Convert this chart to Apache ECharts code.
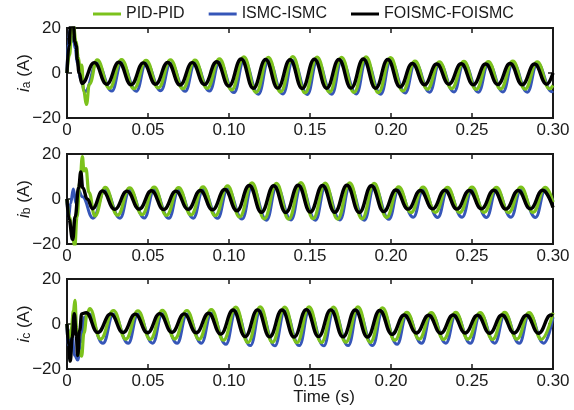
<!DOCTYPE html>
<html>
<head>
<meta charset="utf-8">
<script src="https://cdn.jsdelivr.net/npm/echarts@6/dist/echarts.min.js"></script>
<style>
  html, body { margin: 0; padding: 0; background: #fff; }
  #c { width: 574px; height: 410px; }
</style>
</head>
<body>
<div id="c"></div>
<script>
// Three-phase stator currents under three controller pairs (time in s, current in A).
// Each list holds [time, current] turning points of the waveform.
const X_TICKS = ['0', '0.05', '0.10', '0.15', '0.20', '0.25', '0.30'];
const Y_TICKS = [-20, 0, 20];
const SERIES_NAMES = ['PID-PID', 'ISMC-ISMC', 'FOISMC-FOISMC'];

const IA_PID = [[0,0],[0.0015,8],[0.0030,18],[0.0040,21],[0.0055,14],[0.0070,7],[0.0082,1],[0.0091,3.5],[0.0103,-8],[0.0120,-14],[0.0138,-5],
  [0.0186,5.8],[0.0262,-6.8],[0.0337,6.0],[0.0413,-7.0],[0.0488,5.6],[0.0564,-6.6],[0.0639,5.9],[0.0715,-7.0],[0.0790,5.7],[0.0865,-6.8],
  [0.0941,6.3],[0.1016,-7.5],[0.1092,7.2],[0.1167,-8.6],[0.1243,7.0],[0.1318,-8.4],[0.1394,7.3],[0.1469,-8.8],[0.1544,7.1],[0.1620,-8.5],
  [0.1695,7.0],[0.1771,-8.6],[0.1846,7.2],[0.1922,-8.7],[0.1997,6.8],[0.2073,-8.0],[0.2148,5.3],[0.2224,-7.2],[0.2299,5.0],[0.2374,-7.0],
  [0.2450,5.2],[0.2525,-7.3],[0.2601,5.1],[0.2676,-7.1],[0.2752,5.3],[0.2827,-7.2],[0.2903,5.0],[0.2978,-7.0],[0.3000,-5.5]];
const IA_ISMC = [[0,0],[0.0010,15],[0.0018,19],[0.0028,14],[0.0040,16],[0.0050,11],[0.0065,4],[0.0085,-3],[0.0110,-8.3],
  [0.0186,4.5],[0.0277,-8.0],[0.0337,4.6],[0.0428,-8.1],[0.0488,4.4],[0.0579,-7.9],[0.0639,4.5],[0.0730,-8.1],[0.0790,4.6],[0.0880,-8.0],
  [0.0941,4.8],[0.1031,-8.7],[0.1092,5.6],[0.1182,-9.4],[0.1243,5.5],[0.1333,-9.3],[0.1394,5.6],[0.1484,-9.5],[0.1544,5.5],[0.1635,-9.4],
  [0.1695,5.4],[0.1786,-9.3],[0.1846,5.6],[0.1937,-9.4],[0.1997,5.3],[0.2088,-8.9],[0.2148,4.4],[0.2239,-8.5],[0.2299,4.3],[0.2389,-8.4],
  [0.2450,4.4],[0.2540,-8.5],[0.2601,4.3],[0.2691,-8.4],[0.2752,4.4],[0.2842,-8.5],[0.2903,4.3],[0.2993,-8.3],[0.3000,-8.0]];
const IA_FOISMC = [[0,0],[0.0012,12],[0.0022,21],[0.0040,21],[0.0048,14],[0.0058,12],[0.0063,6],[0.0075,0],[0.0092,-4.6],
  [0.0169,4.6],[0.0245,-5.0],[0.0320,4.8],[0.0396,-5.2],[0.0471,4.5],[0.0547,-5.0],[0.0622,4.7],[0.0698,-5.3],[0.0773,4.6],[0.0848,-5.1],
  [0.0924,5.0],[0.0999,-5.8],[0.1075,6.2],[0.1150,-6.8],[0.1226,6.0],[0.1301,-6.7],[0.1377,5.9],[0.1452,-6.9],[0.1527,6.1],[0.1603,-6.8],
  [0.1678,6.0],[0.1754,-6.7],[0.1829,6.2],[0.1905,-6.8],[0.1980,6.0],[0.2056,-6.2],[0.2131,4.2],[0.2207,-5.2],[0.2282,4.0],[0.2357,-5.0],
  [0.2433,4.1],[0.2508,-5.2],[0.2584,4.0],[0.2659,-5.1],[0.2735,4.2],[0.2810,-5.2],[0.2886,4.0],[0.2961,-5.0],[0.3000,0.0]];

const IB_PID = [[0,0],[0.0015,-8],[0.0035,-17],[0.0048,-21],[0.0062,-8],[0.0080,8],[0.0095,18.8],[0.0105,12.5],[0.0117,13.5],[0.0135,3],[0.0172,-7.5],
  [0.0236,5.2],[0.0312,-7.2],[0.0387,5.0],[0.0463,-7.0],[0.0538,5.3],[0.0614,-7.3],[0.0689,5.1],[0.0765,-7.1],[0.0840,5.4],[0.0915,-7.4],
  [0.0991,5.8],[0.1066,-8.0],[0.1142,7.2],[0.1217,-8.8],[0.1293,7.0],[0.1368,-8.9],[0.1444,7.3],[0.1519,-8.7],[0.1594,7.1],[0.1670,-8.9],
  [0.1745,7.2],[0.1821,-8.8],[0.1896,7.0],[0.1972,-8.2],[0.2047,5.4],[0.2123,-6.0],[0.2198,5.3],[0.2274,-5.9],[0.2349,5.2],[0.2424,-6.0],
  [0.2500,5.3],[0.2575,-5.9],[0.2651,5.2],[0.2726,-6.0],[0.2802,5.3],[0.2877,-5.9],[0.2953,5.2],[0.3000,-1.5]];
const IB_ISMC = [[0,0],[0.0009,-8.5],[0.0022,-2],[0.0039,4.5],[0.0056,-2],[0.0070,4],[0.0095,1],[0.0160,-8.5],
  [0.0236,4.0],[0.0327,-8.5],[0.0387,3.9],[0.0478,-8.4],[0.0538,4.1],[0.0629,-8.6],[0.0689,4.0],[0.0780,-8.5],[0.0840,4.2],[0.0930,-8.6],
  [0.0991,4.5],[0.1081,-8.9],[0.1142,5.6],[0.1232,-9.4],[0.1293,5.5],[0.1383,-9.3],[0.1444,5.6],[0.1534,-9.4],[0.1594,5.5],[0.1685,-9.3],
  [0.1745,5.6],[0.1836,-9.4],[0.1896,5.4],[0.1987,-9.0],[0.2047,4.2],[0.2138,-8.1],[0.2198,4.1],[0.2289,-8.2],[0.2349,4.2],[0.2439,-8.1],
  [0.2500,4.1],[0.2590,-8.2],[0.2651,4.2],[0.2741,-8.1],[0.2802,4.1],[0.2892,-8.2],[0.2953,4.2],[0.3000,-1.0]];
const IB_FOISMC = [[0,0],[0.0012,-9],[0.0035,-18],[0.0050,-8],[0.0072,5],[0.0085,12],[0.0097,5],[0.0125,0],[0.0158,-4.3],
  [0.0219,3.6],[0.0295,-4.6],[0.0370,3.5],[0.0446,-4.5],[0.0521,3.7],[0.0597,-4.7],[0.0672,3.5],[0.0748,-4.6],[0.0823,3.8],[0.0898,-4.8],
  [0.0974,4.2],[0.1049,-5.2],[0.1125,6.0],[0.1200,-5.9],[0.1276,5.9],[0.1351,-6.0],[0.1427,6.1],[0.1502,-5.8],[0.1577,6.0],[0.1653,-5.9],
  [0.1728,6.1],[0.1804,-6.0],[0.1879,5.9],[0.1955,-5.6],[0.2030,4.0],[0.2106,-4.5],[0.2181,3.8],[0.2257,-4.4],[0.2332,3.9],[0.2407,-4.5],
  [0.2483,3.8],[0.2558,-4.4],[0.2634,3.9],[0.2709,-4.5],[0.2785,3.8],[0.2860,-4.4],[0.2936,3.9],[0.3000,-3.8]];

const IC_PID = [[0,0],[0.0012,-6],[0.0025,-3],[0.0040,6],[0.0049,10.5],[0.0060,-2],[0.0075,-12],[0.0090,-14.3],[0.0105,-4],[0.0125,5],[0.0140,6.8],[0.0207,-6.7],
  [0.0287,6.0],[0.0363,-6.7],[0.0438,5.9],[0.0514,-6.8],[0.0589,6.1],[0.0665,-6.6],[0.0740,6.0],[0.0815,-6.8],[0.0891,6.4],[0.0966,-7.2],
  [0.1042,7.5],[0.1117,-8.2],[0.1193,7.6],[0.1268,-8.1],[0.1344,7.5],[0.1419,-8.3],[0.1494,7.6],[0.1570,-8.2],[0.1645,7.5],[0.1721,-8.1],
  [0.1796,7.6],[0.1872,-8.2],[0.1947,7.2],[0.2023,-7.2],[0.2098,5.2],[0.2174,-6.7],[0.2249,5.1],[0.2324,-6.8],[0.2400,5.2],[0.2475,-6.7],
  [0.2551,5.1],[0.2626,-6.8],[0.2702,5.2],[0.2777,-6.7],[0.2853,5.1],[0.2928,-6.8],[0.3000,5.0]];
const IC_ISMC = [[0,0],[0.0008,-10],[0.0028,-2],[0.0048,-14],[0.0066,-16],[0.0085,-8],[0.0108,3],[0.0135,4.5],[0.0222,-8.6],
  [0.0287,4.5],[0.0378,-8.6],[0.0438,4.4],[0.0529,-8.5],[0.0589,4.6],[0.0680,-8.6],[0.0740,4.5],[0.0830,-8.5],[0.0891,4.8],[0.0981,-9.0],
  [0.1042,5.8],[0.1132,-9.6],[0.1193,5.9],[0.1283,-9.7],[0.1344,5.8],[0.1434,-9.6],[0.1494,5.9],[0.1585,-9.7],[0.1645,5.8],[0.1736,-9.6],
  [0.1796,5.9],[0.1887,-9.6],[0.1947,5.6],[0.2038,-9.0],[0.2098,4.3],[0.2189,-8.6],[0.2249,4.4],[0.2339,-8.5],[0.2400,4.3],[0.2490,-8.6],
  [0.2551,4.4],[0.2641,-8.5],[0.2702,4.3],[0.2792,-8.6],[0.2853,4.4],[0.2943,-8.5],[0.3000,3.0]];
const IC_FOISMC = [[0,0],[0.0009,-9],[0.0020,-16.5],[0.0032,-6],[0.0045,4.6],[0.0057,-5],[0.0066,-14],[0.0078,-3],[0.0091,4.5],[0.0118,5.0],[0.0190,-3.8],
  [0.0270,4.5],[0.0346,-3.8],[0.0421,4.4],[0.0497,-3.9],[0.0572,4.6],[0.0648,-3.7],[0.0723,4.5],[0.0798,-3.9],[0.0874,4.8],[0.0949,-4.5],
  [0.1025,6.2],[0.1100,-5.6],[0.1176,6.3],[0.1251,-5.7],[0.1327,6.2],[0.1402,-5.8],[0.1477,6.4],[0.1553,-5.6],[0.1628,6.3],[0.1704,-5.7],
  [0.1779,6.2],[0.1855,-5.8],[0.1930,6.0],[0.2006,-4.6],[0.2081,4.0],[0.2157,-4.0],[0.2232,3.9],[0.2307,-4.1],[0.2383,4.0],[0.2458,-4.0],
  [0.2534,3.9],[0.2609,-4.1],[0.2685,4.0],[0.2760,-4.0],[0.2836,3.9],[0.2911,-4.1],[0.2987,4.0],[0.3000,3.6]];

const FONT = '"Liberation Sans", Arial, Helvetica, sans-serif';
const INK = '#1a1a1a';
const GREEN = '#7cc21c';
const BLUE = '#3656b8';
const BLACK = '#000000';

const panels = [
  { sub: 'a', top: 28, pid: IA_PID, ismc: IA_ISMC, fo: IA_FOISMC },
  { sub: 'b', top: 154, pid: IB_PID, ismc: IB_ISMC, fo: IB_FOISMC },
  { sub: 'c', top: 279, pid: IC_PID, ismc: IC_ISMC, fo: IC_FOISMC }
];

const xStep = 0.05;
const tickStyle = { show: true, inside: true, length: 5, lineStyle: { color: INK, width: 1.5 } };
const noLine = { show: false, onZero: false };

const grid = [], xAxis = [], yAxis = [], series = [];
panels.forEach((p, k) => {
  grid.push({ left: 67, width: 486, top: p.top, height: 90, show: true,
    borderColor: INK, borderWidth: 2, backgroundColor: 'transparent',
    containLabel: false, outerBoundsMode: 'none' });
  const last = k === panels.length - 1;
  // bottom axis with labels
  xAxis.push({ gridIndex: k, type: 'value', min: 0, max: 0.3, interval: xStep, position: 'bottom',
    axisLine: noLine, axisTick: tickStyle, splitLine: { show: false },
    axisLabel: { fontFamily: FONT, fontSize: 17, color: INK, margin: 4,
      formatter: v => X_TICKS[Math.round(v / xStep)] },
    name: last ? 'Time (s)' : '', nameLocation: 'middle', nameGap: 20, nameMoveOverlap: false,
    nameTextStyle: { fontFamily: FONT, fontSize: 17, color: INK, padding: [0, 0, 0, 28] } });
  // mirrored top ticks
  xAxis.push({ gridIndex: k, type: 'value', min: 0, max: 0.3, interval: xStep, position: 'top',
    axisLine: noLine, axisTick: tickStyle, splitLine: { show: false }, axisLabel: { show: false } });
  yAxis.push({ gridIndex: k, type: 'value', min: Y_TICKS[0], max: Y_TICKS[Y_TICKS.length - 1], interval: 20, position: 'left',
    axisLine: noLine, axisTick: tickStyle, splitLine: { show: false },
    axisLabel: { fontFamily: FONT, fontSize: 17, color: INK, margin: 6,
      formatter: v => String(v).replace('-', '\u2212') },
    name: '{i|i}{s|' + p.sub + '}{u| (A)}', nameLocation: 'middle', nameRotate: 90, nameGap: 34,
    nameMoveOverlap: false,
    nameTextStyle: { fontFamily: FONT, fontSize: 17, color: INK,
      rich: {
        i: { fontFamily: FONT, fontSize: 17, fontStyle: 'italic', color: INK, lineHeight: 18, verticalAlign: 'middle' },
        s: { fontFamily: FONT, fontSize: 12, color: INK, lineHeight: 12, verticalAlign: 'bottom' },
        u: { fontFamily: FONT, fontSize: 17, color: INK, lineHeight: 18, verticalAlign: 'middle' }
      } } });
  yAxis.push({ gridIndex: k, type: 'value', min: -20, max: 20, interval: 20, position: 'right',
    axisLine: noLine, axisTick: tickStyle, splitLine: { show: false }, axisLabel: { show: false } });

  const base = { type: 'line', xAxisIndex: 2 * k, yAxisIndex: 2 * k, symbol: 'none',
    smooth: 0.45, smoothMonotone: 'x', clip: true, animation: false };
  series.push(Object.assign({}, base, { name: SERIES_NAMES[1], data: p.ismc, color: BLUE,
    lineStyle: { color: BLUE, width: 3 }, z: 2 }));
  series.push(Object.assign({}, base, { name: SERIES_NAMES[0], data: p.pid, color: GREEN,
    lineStyle: { color: GREEN, width: 3.2 }, z: 3 }));
  series.push(Object.assign({}, base, { name: SERIES_NAMES[2], data: p.fo, color: BLACK,
    lineStyle: { color: BLACK, width: 3.4 }, z: 4 }));
});

const chart = echarts.init(document.getElementById('c'), null, { renderer: 'canvas' });
chart.setOption({
  animation: false,
  backgroundColor: '#ffffff',
  legend: {
    data: SERIES_NAMES, left: 93, top: 6, padding: 0,
    icon: 'rect', itemWidth: 28, itemHeight: 3, itemGap: 24,
    textStyle: { fontFamily: FONT, fontSize: 16, color: INK, padding: [0, 0, 0, 0] }
  },
  grid, xAxis, yAxis, series
});
</script>
</body>
</html>
